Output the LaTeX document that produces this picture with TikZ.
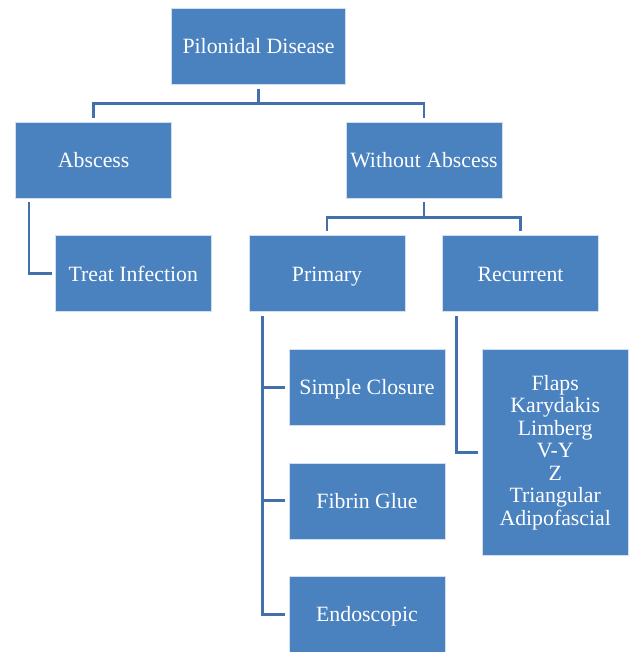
\documentclass[tikz,border=0pt]{standalone}
\usepackage{fontspec}
\setmainfont{Liberation Serif}
\usepackage{xcolor}
\usepackage{tikz}
\usetikzlibrary{calc}
\usetikzlibrary{positioning}

\definecolor{boxblue}{HTML}{4A81BF}
\definecolor{lineblue}{HTML}{4270AA}

\begin{document}
\begin{tikzpicture}[x=1pt, y=-1pt, line width=2.8pt]
 	  \tikzstyle{box}=[draw=white!75!boxblue, line width=0.6pt, fill=boxblue, text=white,
       minimum width=156pt, minimum height=76pt, inner sep=0pt, font=\fontsize{21.8}{22.5}\selectfont,
       align=center, text height=15.6pt, text depth=1pt]
 	  \tikzstyle{conn}=[draw=lineblue, shorten <=4pt, shorten >=4pt]
\useasboundingbox (0,0) rectangle (628,652);
    \node[box, minimum width=174.4pt] (pd) at (258.5,46.3) {Pilonidal Disease};
    \node[box] (ab) at (93.7,160) {Abscess};
    \node[box] (wa) at (424,160) {Without Abscess};
    \node[box] (ti) at (133.3,273.7) {Treat Infection};
    \node[box] (pr) at (327,273.7) {Primary};
    \node[box] (re) at (520.5,273.7) {Recurrent};
    \node[box] (sc) at (367,387.3) {Simple Closure};
    \node[box] (fg) at (367,500.8) {Fibrin Glue};
    \node[box] (en) at (367,614.3) {Endoscopic};
    \node[box, text height=, text depth=, minimum width=145.7pt, minimum height=206.4pt] (fl) at (555.2,452.5)
       {Flaps\\Karydakis\\Limberg\\V-Y\\Z\\Triangular\\Adipofascial};
% tree links
\draw[conn] (pd.south) -- ++(0,18.7) -| (ab.north);
\draw[conn] (pd.south) -- ++(0,18.7) -| (wa.north);
\draw[conn] (wa.south) -- ++(0,18.8) -| (pr.north);
\draw[conn] (wa.south) -- ++(0,18.8) -| (re.north);
% side links
\draw[conn, shorten >=3pt] ([xshift=13.6pt]ab.south west) |- (ti.west);
\foreach \b in {sc,fg,en}{
    \draw[conn] ([xshift=13.7pt]pr.south west) |- (\b.west);
      }
\draw[conn] ([xshift=14.4pt]re.south west) |- (fl.west);
   \end{tikzpicture}
\end{document}
